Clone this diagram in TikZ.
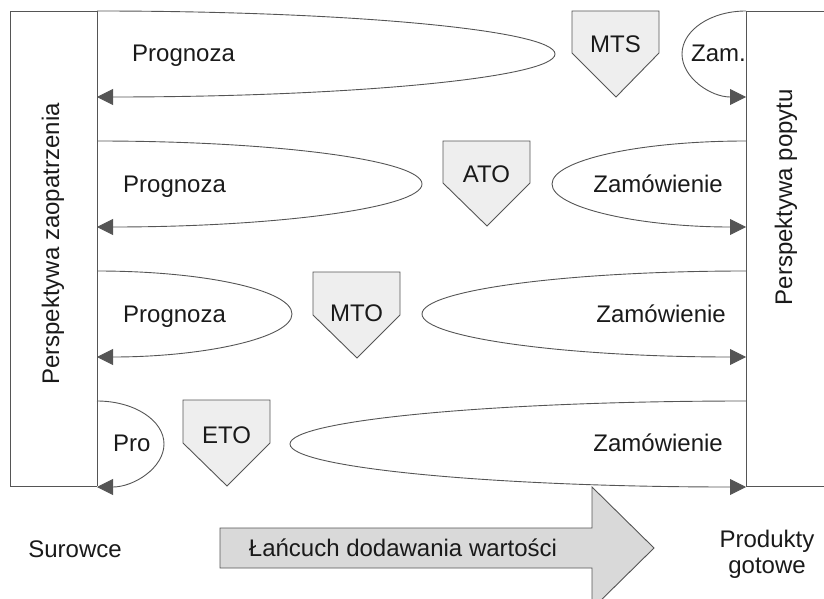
\documentclass[tikz,border=0pt]{standalone}
\usepackage{fontspec}
\setmainfont{Liberation Sans}
\usetikzlibrary{arrows.meta}
\definecolor{lin}{HTML}{555555}
\definecolor{txt}{HTML}{1A1A1A}
\definecolor{pent}{HTML}{EEEEEE}
\definecolor{bigarr}{HTML}{D9D9D9}
\begin{document}
\begin{tikzpicture}[x=1pt,y=-1pt,
  ln/.style={draw=lin,line width=0.9pt},
  flow/.style={ln,-{Triangle[length=16pt,width=16pt]}},
  lbl/.style={text=txt,font=\fontsize{24}{25.5}\selectfont,inner sep=0pt,anchor=base},
  pentbox/.style={ln,fill=pent}]
\useasboundingbox (0,0) rectangle (824,599);
\clip (0,0) rectangle (824,599);
% frames
\draw[ln] (97,11) -- (10,11) -- (10,486) -- (97,486);
\draw[ln] (97,11) -- (97,486);
\draw[ln] (824,11) -- (746,11) -- (746,486) -- (824,486);
\node[lbl,anchor=center,rotate=90] (zaop) at (53,244) {Perspektywa zaopatrzenia};
\node[lbl,anchor=center,rotate=90] (popyt) at (786,197) {Perspektywa popytu};
% coordinates of band starts/ends
\foreach \i/\t in {1/11,2/141,3/271,4/401}{
  \coordinate (L\i t) at (97,\t);
  \coordinate (R\i t) at (746,\t);
}
% left (forecast) half ellipses
\draw[flow] (L1t) arc[start angle=-90,end angle=90,x radius=458,y radius=43];
\draw[flow] (L2t) arc[start angle=-90,end angle=90,x radius=325,y radius=43];
\draw[flow] (L3t) arc[start angle=-90,end angle=90,x radius=195,y radius=43];
\draw[flow] (L4t) arc[start angle=-90,end angle=90,x radius=67,y radius=43];
% right (order) half ellipses
\draw[flow] (R1t) arc[start angle=-90,end angle=-270,x radius=64,y radius=43];
\draw[flow] (R2t) arc[start angle=-90,end angle=-270,x radius=194,y radius=43];
\draw[flow] (R3t) arc[start angle=-90,end angle=-270,x radius=324,y radius=43];
\draw[flow] (R4t) arc[start angle=-90,end angle=-270,x radius=456,y radius=43];
% labels
\node[lbl,anchor=base west] (p1) at (132,62) {Prognoza};
\node[lbl,anchor=base west] (p2) at (123,192) {Prognoza};
\node[lbl,anchor=base west] (p3) at (123,322) {Prognoza};
\node[lbl,anchor=base west] (p4) at (113,451) {Pro};
\node[lbl,anchor=base east] (z1) at (746,62) {Zam.};
\node[lbl,anchor=base east] (z2) at (723,192) {Zamówienie};
\node[lbl,anchor=base east] (z3) at (726,322) {Zamówienie};
\node[lbl,anchor=base east] (z4) at (723,451) {Zamówienie};
% pentagons
\draw[pentbox] (572,11) -- (659,11) -- (659,53) -- (616,97) -- (572,53) -- cycle;
\node[lbl] (mts) at (615.5,53) {MTS};
\draw[pentbox] (443,141) -- (530,141) -- (530,183) -- (487,226) -- (443,183) -- cycle;
\node[lbl] (ato) at (486.5,182) {ATO};
\draw[pentbox] (313,272) -- (400,272) -- (400,315) -- (357,358) -- (313,315) -- cycle;
\node[lbl] (mto) at (356.5,321) {MTO};
\draw[pentbox] (183,400) -- (270,400) -- (270,443) -- (227,486) -- (183,443) -- cycle;
\node[lbl] (eto) at (226.5,443) {ETO};
% bottom
\node[lbl] (sur) at (75,557) {Surowce};
\draw[ln,fill=bigarr] (220,528) -- (592,528) -- (592,487) -- (654,548) -- (592,609) -- (592,568) -- (220,568) -- cycle;
\node[lbl] (lan) at (403,556) {Łańcuch dodawania wartości};
\node[lbl,align=center] (prod) at (767,573) {Produkty\\gotowe};
\end{tikzpicture}
\end{document}
